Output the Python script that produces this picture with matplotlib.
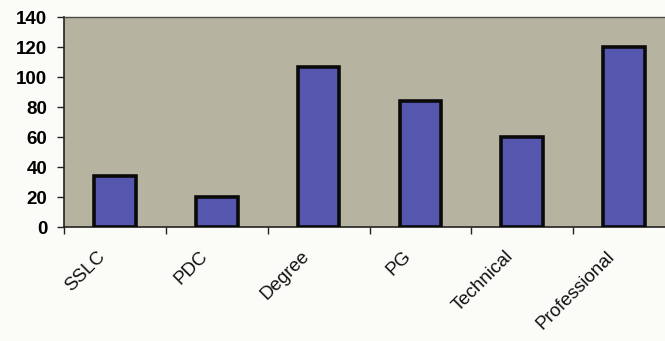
import numpy as np
import matplotlib.pyplot as plt
from matplotlib.transforms import ScaledTranslation

categories = ['SSLC', 'PDC', 'Degree', 'PG', 'Technical', 'Professional']
counts = [34, 20, 107, 84, 60, 120]
y_ticks = [0, 20, 40, 60, 80, 100, 120, 140]

plt.rcParams['font.family'] = ['Liberation Sans', 'DejaVu Sans']

fig = plt.figure(figsize=(6.65, 3.41), dpi=100, facecolor='#fbfbf7')
ax = fig.add_axes([64 / 665, 1 - 227 / 341, 611 / 665, 210 / 341])
ax.set_facecolor('#b6b3a1')

x = np.arange(len(categories))
ax.bar(x, counts, width=0.41, color='#5557ae', edgecolor='#0a0a0a',
       linewidth=2.6, zorder=3)

ax.set_xlim(-0.5, len(categories) - 0.5)
ax.set_ylim(0, 140)
ax.set_yticks(y_ticks)
ax.set_yticklabels([str(v) for v in y_ticks], fontsize=13.5, fontweight='bold')
ax.set_xticks(np.arange(len(categories) + 1) - 0.5)
ax.set_xticklabels([])
ax.tick_params(axis='y', direction='out', length=5, width=1, pad=7,
               color='#222222')
ax.tick_params(axis='x', direction='out', length=5, width=1, color='#222222')

for side in ['left', 'bottom']:
    ax.spines[side].set_color('#222222')
    ax.spines[side].set_linewidth(1.2)
for side in ['top', 'right']:
    ax.spines[side].set_color('#4a4a4a')
    ax.spines[side].set_linewidth(1.0)

# rotated category names, right end sits a little left of the bar centre
shift = ScaledTranslation(-12 / 100, -27 / 100, fig.dpi_scale_trans)
for i, name in enumerate(categories):
    ax.text(i, 0, name, transform=ax.get_xaxis_transform() + shift,
            rotation=45, rotation_mode='anchor', ha='right', va='center',
            fontsize=13.5, color='#111111')

fig.savefig('out.png', dpi=100, facecolor=fig.get_facecolor())
